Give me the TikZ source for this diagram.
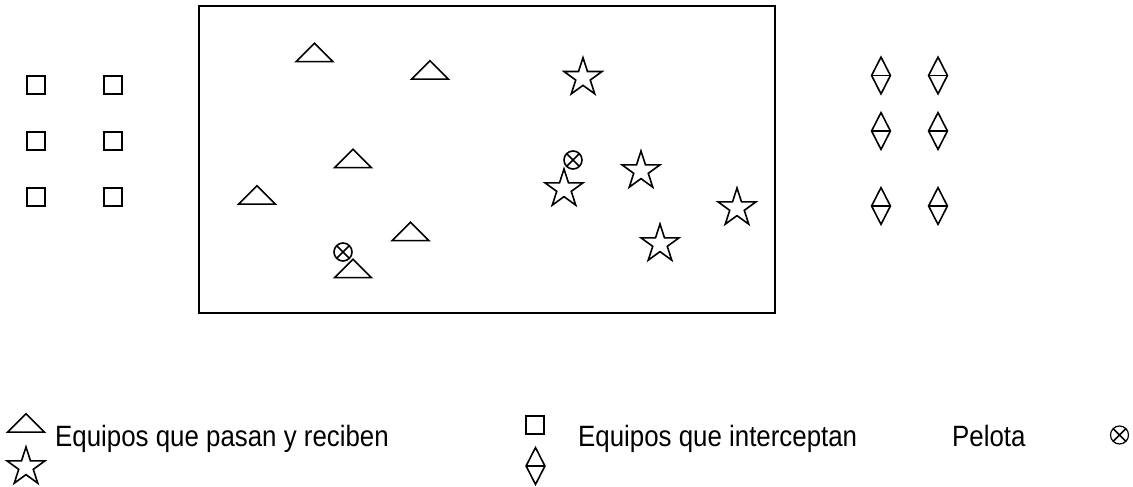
\documentclass[tikz,border=0pt]{standalone}
\usepackage{fontspec}
\setmainfont{Liberation Sans}[FakeStretch=0.88]
\usetikzlibrary{shapes.geometric}

\begin{document}
\begin{tikzpicture}[
  x=1bp, y=-1bp,
  sym/.style={
      draw,
      line width=1.6bp,
      inner sep=0pt,
      fill=none
    },
  defender/.style={
      sym,
      rectangle,
      minimum size=18.5bp
    },
  kite/.style={
      sym,
      diamond,
      minimum width=19.5bp,
      minimum height=37.5bp,
      path picture={\draw [line width=1.6bp] (path picture bounding box.west) -- (path picture bounding box.east);}
    },
  passer/.style={
      sym,
      isosceles triangle,
      isosceles triangle apex angle=90,
      shape border rotate=90,
      minimum height=18.5bp
    },
  receiver/.style={
      sym,
      star,
      star points=5,
      star point ratio=2.618,
      minimum size=40bp
    },
  ball/.style={
      sym,
      circle,
      minimum size=18bp,
      path picture={\draw [line width=1.6bp]
        (path picture bounding box.south west) -- (path picture bounding box.north east)
        (path picture bounding box.north west) -- (path picture bounding box.south east);}
    },
  legend/.style={
      anchor=base west,
      inner sep=0pt,
      font=\fontsize{29.5}{32}\selectfont
    }]
  \useasboundingbox (0,0) rectangle (1133,487);

  % field
  \draw [line width=1.6bp] (199,6) rectangle (775,313);

  % intercepting teams, left
  \begin{scope}
    \node [defender] (sq_1) at (36,85) {};
    \node [defender] (sq_2) at (113,85) {};
    \node [defender] (sq_3) at (36,141) {};
    \node [defender] (sq_4) at (113,141) {};
    \node [defender] (sq_5) at (36,197) {};
    \node [defender] (sq_6) at (113,197) {};
  \end{scope}

  % intercepting teams, right
  \begin{scope}
    \node [kite] (kite_1) at (881,75.5) {};
    \node [kite] (kite_2) at (938,75.5) {};
    \node [kite] (kite_3) at (881,131) {};
    \node [kite] (kite_4) at (938,131) {};
    \node [kite] (kite_5) at (881,206) {};
    \node [kite] (kite_6) at (938,206) {};
  \end{scope}

  % passing teams
  \begin{scope}
    \node [passer] (tri_1) at (314.5,54) {};
    \node [passer] (tri_2) at (430,71.5) {};
    \node [passer] (tri_3) at (353,160) {};
    \node [passer] (tri_4) at (257,196.5) {};
    \node [passer] (tri_5) at (410.5,233) {};
    \node [passer] (tri_6) at (353,270) {};

    \node [receiver] (star_1) at (583,77.7) {};
    \node [receiver] (star_2) at (564,189) {};
    \node [receiver] (star_3) at (641,171) {};
    \node [receiver] (star_4) at (737,208) {};
    \node [receiver] (star_5) at (660,244) {};

    \node [ball] (ball_1) at (343,252) {};
    \node [ball] (ball_2) at (573,160) {};
  \end{scope}

  % legend
  \node [passer] (tri_key) at (26,424.5) {};
  \node [receiver] (star_key) at (26,467) {};
  \node [legend] (text_pass) at (55,446.7) {Equipos que pasan y reciben};
  \node [defender] (sq_key) at (535,425) {};
  \node [kite] (kite_key) at (535.5,466) {};
  \node [legend] (text_cut) at (578,446.7) {Equipos que interceptan};
  \node [legend] (text_ball) at (952,446.7) {Pelota};
  \node [ball, line width=1.2bp] (ball_key) at (1119.5,435) {};
\end{tikzpicture}
\end{document}
